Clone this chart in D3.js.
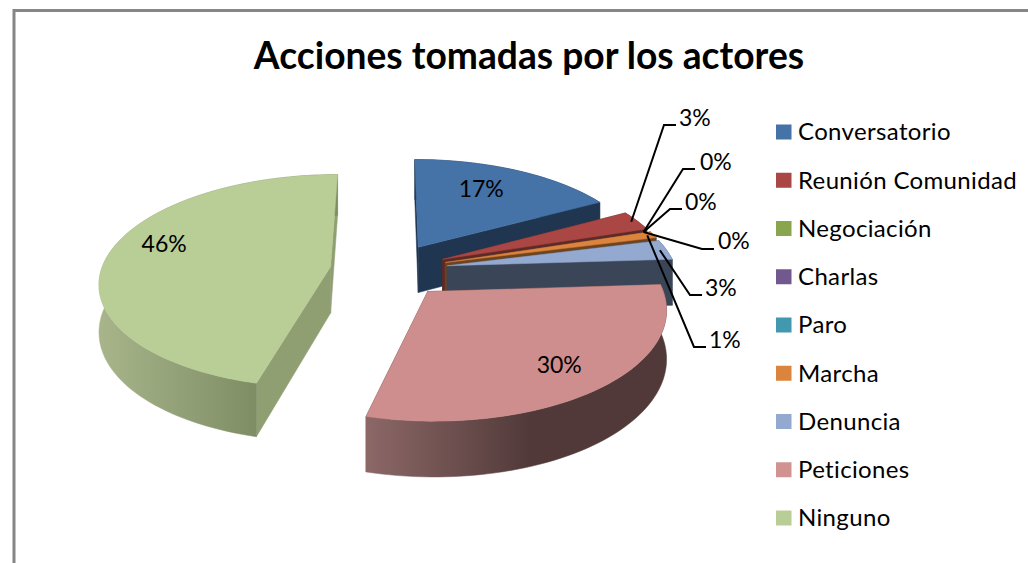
<!DOCTYPE html>
<html><head><meta charset="utf-8">
<script src="https://cdn.jsdelivr.net/npm/d3@7/dist/d3.min.js"></script>
<style>html,body{margin:0;padding:0;background:#fff;overflow:hidden}svg{display:block}text{font-family:Lato,sans-serif;fill:#000}</style>
</head><body><div id="c"></div>
<script>
const categories = ["Conversatorio","Reunión Comunidad","Negociación","Charlas","Paro","Marcha","Denuncia","Peticiones","Ninguno"];
const percentages = [17,3,0,0,0,1,3,30,46];
const chartTitle = "Acciones tomadas por los actores";

const topColors = ["#4572A7","#AA4643","#89A54E","#71588F","#4198AF","#DB843D","#93A9CF","#CE8E8D","#B9CD96"];
const wallColors = ["#1F3550","#5C2A28","#4F6030","#40325A","#255866","#6E4320","#3B4558","#513939","#8F9F72"];
const outerFrom  = ["#1F3550","#5C2A28","#4F6030","#40325A","#255866","#6E4320","#3B4558","#8C6867","#A8B58B"];
const outerTo    = ["#1F3550","#5C2A28","#4F6030","#40325A","#255866","#6E4320","#3B4558","#513939","#7F8D65"];
const outerStop  = [1,1,1,1,1,1,1,.55,.66];

// projection / layout settings
const W=1028,H=563, cx=389, cy=270, R=221, K=.46, EXPLODE=57, THICK=45, PERSP=1680, BASE=.964;
const insideLayout = {0:{f:.71,da:-4}, 7:{f:.78,da:0}, 8:{f:.79,da:9}};
const leaderLayout = {
  1:{elbow:[664,125],end:[676,125],label:[679,118]},
  2:{elbow:[683,169],end:[695,169],label:[700,162]},
  3:{elbow:[670,209],end:[682,209],label:[685,202]},
  4:{elbow:[702,249],end:[714,249],label:[718,241]},
  6:{elbow:[690,295],end:[702,295],label:[705,288]},
  5:{elbow:[694,347],end:[706,347],label:[709,340]}
};

const svg=d3.select("#c").append("svg").attr("width",W).attr("height",H);
const defs=svg.append("defs");
svg.append("path").attr("d",d3.line()([[14,H],[14,10.5],[W,10.5]])).attr("fill","none").attr("stroke","#868686").attr("stroke-width",3);

svg.append("text").attr("x",529).attr("y",69).attr("text-anchor","middle")
  .attr("font-size",37.2).attr("font-weight",700).text(chartTitle);

function project(X,Y,Z){
  const s=1/(BASE+Y/PERSP);
  return [cx+X*s, cy-Y*K*s-Z*s];
}
const slices=d3.pie().sort(null).value(d=>d)(percentages);
const line=d3.line();
function geo(d){
  const mid=(d.startAngle+d.endAngle)/2;
  const ox=EXPLODE*Math.sin(mid), oy=EXPLODE*Math.cos(mid);
  const at=(a,r,z)=>project(ox+r*Math.sin(a),oy+r*Math.cos(a),z);
  return {mid,at};
}
const g=svg.append("g");
slices.forEach((d,i)=>{
  if(d.value===0) return;
  const {at}=geo(d);
  const n=Math.max(4,Math.ceil((d.endAngle-d.startAngle)/.03));
  const angs=d3.range(n+1).map(k=>d.startAngle+(d.endAngle-d.startAngle)*k/n);
  const topArc=angs.map(a=>at(a,R,0)), botArc=angs.map(a=>at(a,R,-THICK));
  const apexT=at(0,0,0), apexB=at(0,0,-THICK);
  const grad=defs.append("linearGradient").attr("id","w"+i);
  grad.append("stop").attr("offset",0).attr("stop-color",outerFrom[i]);
  grad.append("stop").attr("offset",outerStop[i]).attr("stop-color",outerTo[i]);
  const quad=(p,f)=>g.append("path").attr("d",line(p)+"Z").attr("fill",f).attr("stroke",f).attr("stroke-width",.5);
  quad([apexT,apexB,at(d.startAngle,R,-THICK),at(d.startAngle,R,0)],wallColors[i]);
  quad([apexT,apexB,at(d.endAngle,R,-THICK),at(d.endAngle,R,0)],wallColors[i]);
  quad(topArc.concat(botArc.slice().reverse()),`url(#w${i})`);
  quad([apexT].concat(topArc),topColors[i]);
});

const fmt=v=>d3.format(".0f")(v)+"%";
const labels=svg.append("g").attr("font-size",23);
slices.forEach((d,i)=>{
  const {mid,at}=geo(d);
  if(insideLayout[i]){
    const p=at(mid+insideLayout[i].da*Math.PI/180,R*insideLayout[i].f,0);
    labels.append("text").attr("x",p[0]).attr("y",p[1]).attr("dy",".35em").attr("text-anchor","middle").text(fmt(d.value));
  } else {
    const l=leaderLayout[i], p=at(mid,R*.97,0);
    labels.append("path").attr("d",line([p,l.elbow,l.end])).attr("fill","none").attr("stroke","#000").attr("stroke-width",2);
    labels.append("text").attr("x",l.label[0]).attr("y",l.label[1]).attr("dy",".35em").text(fmt(d.value));
  }
});

const yRow=d3.scalePoint().domain(categories).range([132,518]);
const leg=svg.append("g");
categories.forEach((c,i)=>{
  leg.append("rect").attr("x",776).attr("y",yRow(c)-7.5).attr("width",15.5).attr("height",15).attr("fill",topColors[i]==="#CE8E8D"?"#D19392":topColors[i]);
  leg.append("text").attr("x",798).attr("y",yRow(c)).attr("dy",".35em").attr("font-size",24).attr("letter-spacing",.35).text(c);
});
</script></body></html>
